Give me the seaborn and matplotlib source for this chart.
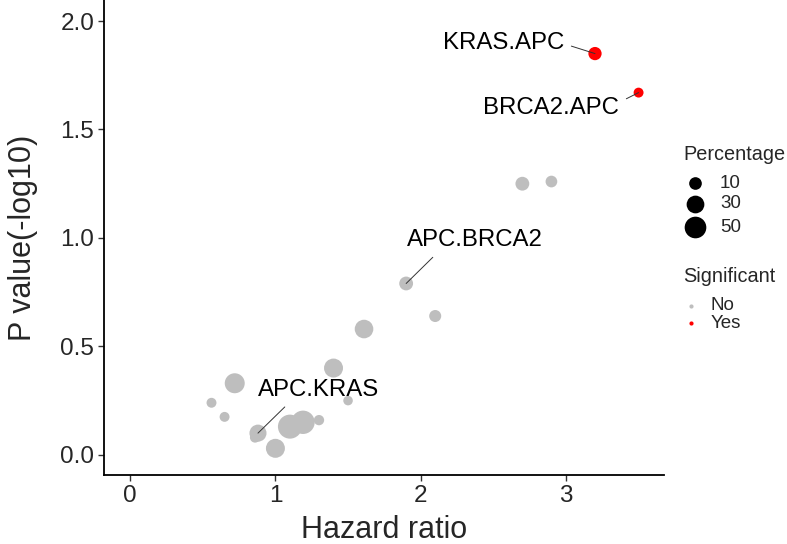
import numpy as np
import pandas as pd
import matplotlib
matplotlib.use("Agg")
import matplotlib.pyplot as plt
from matplotlib.lines import Line2D
import seaborn as sns

# data
hazard_ratio = [3.20, 3.50, 2.70, 2.90, 1.90, 2.10, 1.61, 1.40, 0.72, 0.56,
                0.65, 1.50, 0.88, 0.86, 1.00, 1.10, 1.19, 1.30]
p_value = [1.85, 1.67, 1.25, 1.26, 0.79, 0.64, 0.58, 0.40, 0.33, 0.24,
           0.175, 0.25, 0.10, 0.08, 0.03, 0.13, 0.15, 0.16]
percentage = [12, 2, 14, 7, 14, 8, 34, 36, 41, 2,
              2, 1, 27, 3, 36, 64, 60, 3]
significant = ["Yes", "Yes", "No", "No", "No", "No", "No", "No", "No", "No",
               "No", "No", "No", "No", "No", "No", "No", "No"]
pair = ["KRAS.APC", "BRCA2.APC", "", "", "APC.BRCA2", "", "", "", "", "",
        "", "", "APC.KRAS", "", "", "", "", ""]

# label text positions (data coords) and where the segment leaves the text
label_pos = {"KRAS.APC": (2.57, 1.90, (1.0, 0.45)),
             "BRCA2.APC": (2.90, 1.60, (1.0, 0.75)),
             "APC.BRCA2": (2.37, 0.99, (0.24, 0.0)),
             "APC.KRAS": (1.30, 0.30, (0.27, 0.0))}

legend_sizes = [10, 30, 50]
legend_sig = ["No", "Yes"]

df = pd.DataFrame({"hr": hazard_ratio, "p": p_value, "Percentage": percentage,
                   "Significant": significant, "pair": pair})

sns.set_style("white")
plt.rcParams["font.family"] = ["Liberation Sans", "DejaVu Sans"]

palette = {"No": "#BEBEBE", "Yes": "#FF0000"}
size_norm = (0, 70)
sizes = (43, 323)


def area(v):
    return sizes[0] + (sizes[1] - sizes[0]) * (v - size_norm[0]) / (size_norm[1] - size_norm[0])


W, H = 787, 544
fig = plt.figure(figsize=(W / 100, H / 100), dpi=100)
ax = fig.add_axes([104 / W, 1 - 475 / H, 560 / W, 475 / H])

sns.scatterplot(data=df, x="hr", y="p", hue="Significant", size="Percentage",
                palette=palette, sizes=sizes, size_norm=size_norm,
                linewidth=0, alpha=1, legend=False, ax=ax, zorder=3)

for _, row in df[df["pair"] != ""].iterrows():
    tx, ty, rel = label_pos[row["pair"]]
    ax.annotate(row["pair"], xy=(row["hr"], row["p"]), xytext=(tx, ty),
                ha="center", va="center", fontsize=17.3, color="black",
                arrowprops=dict(arrowstyle="-", color="#333333", lw=0.7,
                                relpos=rel, shrinkA=3, shrinkB=0),
                zorder=4)

ax.set_xlim(-0.18, 3.675)
ax.set_ylim(-0.093, 2.097)
ax.set_xticks([0, 1, 2, 3])
ax.set_yticks([0.0, 0.5, 1.0, 1.5, 2.0])
ax.set_yticklabels(["0.0", "0.5", "1.0", "1.5", "2.0"])
ax.set_xlabel("Hazard ratio", fontsize=22, labelpad=6)
ax.set_ylabel("P value(-log10)", fontsize=22, labelpad=16)
ax.tick_params(axis="both", labelsize=17.5, length=4, width=1, color="#333333",
               direction="out", pad=3, left=True, bottom=True)
sns.despine(ax=ax)
for s in ["left", "bottom"]:
    ax.spines[s].set_linewidth(1.3)
    ax.spines[s].set_color("black")


# legends drawn by hand in figure pixel positions
def fx(px):
    return px / W


def fy(py):
    return 1 - py / H


fig.text(fx(683), fy(155), "Percentage", fontsize=14.3, va="center", ha="left")
for v, py in zip(legend_sizes, [183, 204, 227]):
    fig.add_artist(Line2D([fx(695)], [fy(py)], transform=fig.transFigure,
                          marker="o", linestyle="", color="black",
                          markersize=np.sqrt(area(v)), markeredgewidth=0))
    fig.text(fx(720), fy(py), str(v), fontsize=13.5, va="center", ha="left")

fig.text(fx(683), fy(277), "Significant", fontsize=14.3, va="center", ha="left")
for k, py in zip(legend_sig, [306, 323]):
    fig.add_artist(Line2D([fx(691)], [fy(py)], transform=fig.transFigure,
                          marker="o", linestyle="", color=palette[k],
                          markersize=3, markeredgewidth=0))
    fig.text(fx(711), fy(py), k, fontsize=13.5, va="center", ha="left")

plt.savefig("out.png", dpi=100)
